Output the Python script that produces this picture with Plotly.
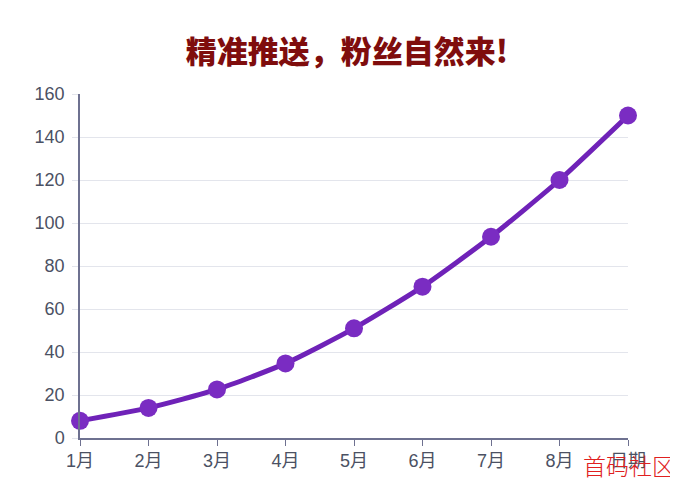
import plotly.graph_objects as go

months = ["1月", "2月", "3月", "4月", "5月", "6月", "7月", "8月", "日期"]
fans = [8, 14, 22.6, 34.7, 51, 70.4, 93.6, 120, 150]
y_ticks = [0, 20, 40, 60, 80, 100, 120, 140, 160]

idx = list(range(len(months)))

fig = go.Figure()
fig.add_trace(go.Scatter(
    x=idx, y=fans, mode="lines+markers",
    line=dict(color="#6f22b8", width=5, shape="spline", smoothing=0.6),
    marker=dict(color="#7a2cc2", size=18, line=dict(width=0)),
    cliponaxis=False, showlegend=False))

fig.update_layout(
    width=678, height=478,
    margin=dict(l=72, r=58, t=86, b=48),
    paper_bgcolor="white", plot_bgcolor="white",
    font=dict(family="Liberation Sans, Noto Sans CJK SC", size=18, color="#4b5163"),
    title=dict(text="精准推送，粉丝自然来!", x=0.5, xanchor="center",
               y=0.908, yanchor="middle",
               font=dict(family="Noto Sans CJK SC", size=31, color="#7f0d0d", weight=900)),
    xaxis=dict(range=[0, 8], tickvals=idx, ticktext=months,
               showgrid=False, zeroline=False,
               showline=True, linecolor="#6e7190", linewidth=1.5,
               ticks="outside", ticklen=6, tickcolor="#6e7190"),
    yaxis=dict(range=[0, 160], tickvals=y_ticks,
               showgrid=True, gridcolor="#e3e5ec", gridwidth=1,
               zeroline=False,
               showline=True, linecolor="#6e7190", linewidth=1.5,
               ticks="outside", ticklen=6, tickcolor="#e3e5ec",
               ticklabelstandoff=4),
    annotations=[dict(text="首码社区", xref="paper", yref="paper",
                      x=1.089, y=-0.078, xanchor="right", yanchor="middle",
                      showarrow=False,
                      font=dict(family="Noto Sans CJK SC", size=23, color="#e02020", weight=300))],
)

fig.write_html("out.html")
